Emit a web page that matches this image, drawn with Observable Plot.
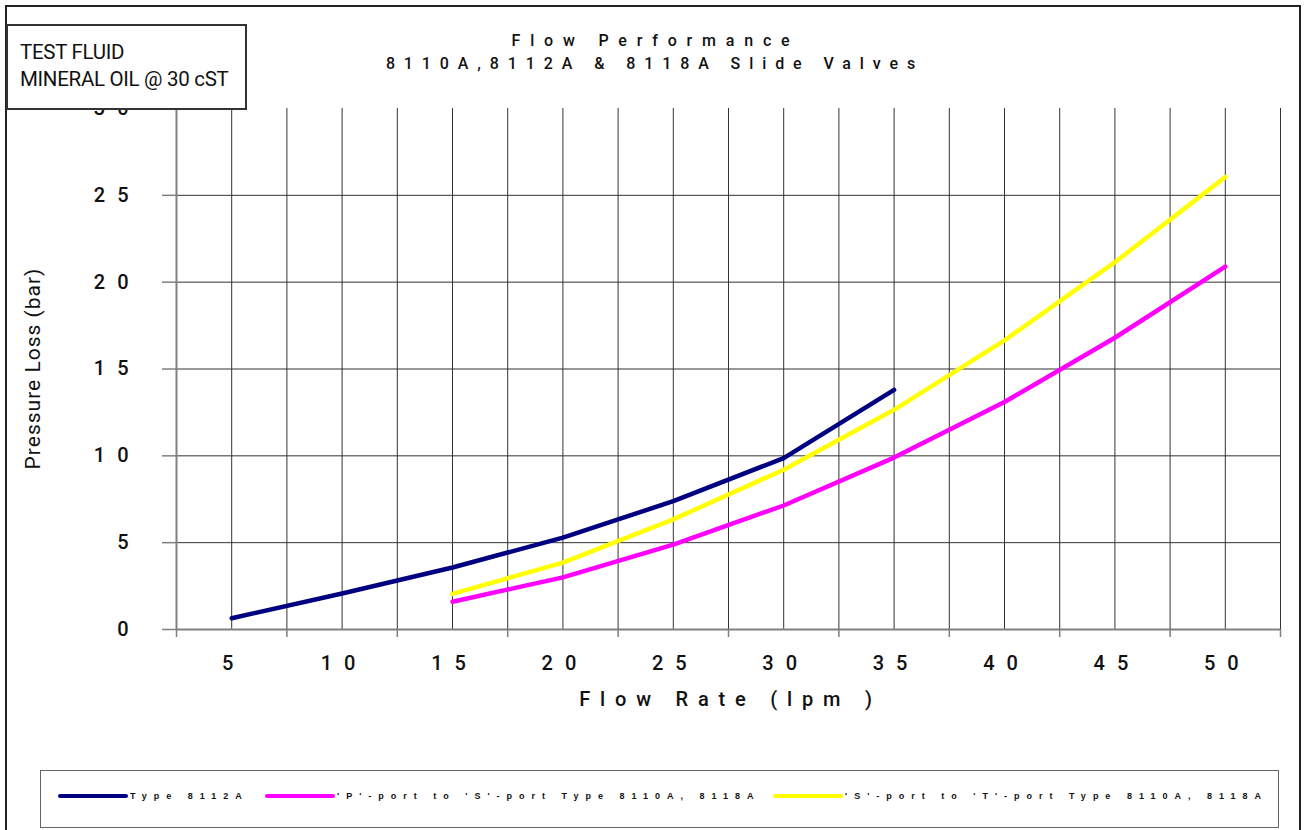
<!DOCTYPE html>
<html>
<head>
<meta charset="utf-8">
<script src="https://cdn.jsdelivr.net/npm/d3@7"></script>
<script src="https://cdn.jsdelivr.net/npm/@observablehq/plot@0.6"></script>
<style>
  body { margin: 0; background: #fff; }
  #wrap { position: relative; width: 1305px; height: 830px; overflow: hidden; font-family: Roboto, sans-serif; color: #111; }
  #frame { position: absolute; left: 5px; top: 5px; width: 1296px; height: 850px; border: 2px solid #222; box-sizing: border-box; }
  #chart { position: absolute; left: 0; top: 0; }
  #chart svg text { font-weight: 500; }
  .title { position: absolute; left: 0; width: 1305px; text-align: center; font-size: 16px; font-weight: 500; letter-spacing: 9.8px; white-space: nowrap; }
  #t1 { top: 31px; padding-left: 6px; box-sizing: border-box; }
  #t2 { top: 54px; padding-left: 5px; box-sizing: border-box; letter-spacing: 8.9px; }
  #fluid { position: absolute; left: 6px; top: 24px; width: 241px; height: 86px; border: 2px solid #333; background: #fff; box-sizing: border-box; font-size: 20.5px; line-height: 27px; padding: 13px 0 0 12px; letter-spacing: -0.3px; }
  #legend { position: absolute; left: 40px; top: 770px; width: 1239px; height: 58px; border: 1.5px solid #666; box-sizing: border-box; background: #fff; }
  .sw { position: absolute; top: 23px; height: 4px; width: 70px; border-radius: 2px; }
  .lt { position: absolute; top: 19px; font-family: "Liberation Sans", Arial, sans-serif; font-weight: bold; font-size: 9px; letter-spacing: 7px; white-space: nowrap; line-height: 12px; }
  g[aria-label="x-axis tick label"] text { letter-spacing: 12px; }
  g[aria-label="y-axis tick label"] text { letter-spacing: 12px; }
</style>
</head>
<body>
<div id="wrap">
  <div id="frame"></div>
  <div id="chart"></div>
  <div class="title" id="t1">Flow Performance</div>
  <div class="title" id="t2">8110A,8112A &amp; 8118A Slide Valves</div>
  <div id="fluid">TEST FLUID<br>MINERAL OIL @ 30 cST</div>
  <div id="legend"></div>
</div>
<script>
// ---- data ----
const flowTicks = [5, 10, 15, 20, 25, 30, 35, 40, 45, 50];
const yTicks = [0, 5, 10, 15, 20, 25, 30];
const seriesNames = ["Type 8112A", "'P'-port to 'S'-port Type 8110A, 8118A", "'S'-port to 'T'-port Type 8110A, 8118A"];
const seriesColors = ["#000080", "#FF00FF", "#FFFF00"];
const flow8112A = [5, 10, 15, 20, 25, 30, 35];
const loss8112A = [0.65, 2.07, 3.57, 5.29, 7.39, 9.87, 13.8];
const flowPS = [15, 20, 25, 30, 35, 40, 45, 50];
const lossPS = [1.6, 3.0, 4.89, 7.14, 9.9, 13.1, 16.8, 20.9];
const flowST = [15, 20, 25, 30, 35, 40, 45, 50];
const lossST = [2.05, 3.85, 6.34, 9.2, 12.65, 16.65, 21.15, 26.05];
const xLabel = "Flow Rate (lpm )";
const yLabel = "Pressure Loss (bar)";

// ---- build table ----
const rows = [];
flow8112A.forEach((f, i) => rows.push({series: seriesNames[0], flow: f, loss: loss8112A[i]}));
flowPS.forEach((f, i) => rows.push({series: seriesNames[1], flow: f, loss: lossPS[i]}));
flowST.forEach((f, i) => rows.push({series: seriesNames[2], flow: f, loss: lossST[i]}));

const half = 2.5;
const bounds = flowTicks.map(f => f - half).concat([flowTicks[flowTicks.length - 1] + half]);
const gridX = d3.range(flowTicks[0], flowTicks[flowTicks.length - 1] + half + 0.01, half);
const gridY = yTicks.filter(v => v > 0 && v < 30);

const chart = Plot.plot({
  width: 1305,
  height: 760,
  marginLeft: 176,
  marginRight: 25,
  marginTop: 108,
  marginBottom: 131,
  style: {fontFamily: "Roboto, sans-serif", color: "#111", background: "transparent"},
  x: {domain: [bounds[0], bounds[bounds.length - 1]]},
  y: {domain: [0, 30]},
  color: {domain: seriesNames, range: seriesColors},
  marks: [
    Plot.ruleY(gridY, {stroke: "#333", strokeWidth: 1}),
    Plot.ruleX(gridX, {stroke: "#333", strokeWidth: 1}),
    Plot.ruleY([0], {stroke: "#808080", strokeWidth: 2}),
    Plot.ruleX([bounds[0]], {stroke: "#808080", strokeWidth: 2}),
    Plot.axisX(bounds, {tickSize: 8, tickFormat: () => "", stroke: "#808080", strokeWidth: 1.5, label: null}),
    Plot.axisX(flowTicks, {tickSize: 0, tickPadding: 26, fontSize: 20, label: null, tickFormat: d => String(d)}),
    Plot.axisY(yTicks, {tickSize: 14, tickPadding: 22, fontSize: 20, stroke: "#808080", strokeWidth: 1.5, label: null, tickFormat: d => String(d)}),
    Plot.line(rows, {x: "flow", y: "loss", z: "series", stroke: "series", strokeWidth: 4.5, strokeLinecap: "round", strokeLinejoin: "round"}),
    Plot.text([xLabel], {frameAnchor: "bottom", dy: 76, fontSize: 20, textAnchor: "middle"}),
    Plot.text([yLabel], {frameAnchor: "left", dx: -143, rotate: -90, fontSize: 21, textAnchor: "middle"})
  ]
});
document.getElementById("chart").appendChild(chart);

// letter-spacing for labels and compensation of trailing spacing on centred text
d3.select(chart).selectAll('g[aria-label="x-axis tick label"] text').attr("dx", 2);
d3.select(chart).selectAll("text").each(function() {
  const t = this.textContent;
  if (t === xLabel) { this.style.letterSpacing = "9.8px"; this.setAttribute("dx", 2); }
  if (t === yLabel) { this.style.letterSpacing = "1px"; this.style.fontWeight = "400"; this.setAttribute("dx", 0.5); }
});

// ---- legend ----
const legend = document.getElementById("legend");
const swLeft = [17, 224, 732];
const txLeft = [89, 296, 804];
seriesNames.forEach((name, i) => {
  const sw = document.createElement("div");
  sw.className = "sw";
  sw.style.left = swLeft[i] + "px";
  sw.style.background = seriesColors[i];
  legend.appendChild(sw);
  const t = document.createElement("div");
  t.className = "lt";
  t.style.left = txLeft[i] + "px";
  t.textContent = name;
  legend.appendChild(t);
});
</script>
</body>
</html>
